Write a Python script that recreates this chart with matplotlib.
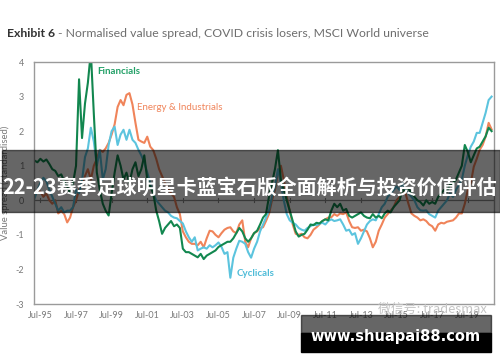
import matplotlib
matplotlib.use("Agg")
import matplotlib.pyplot as plt
from matplotlib.patches import Rectangle
import pandas as pd

# bi-monthly observations, Mar-95 .. Nov-20
dates = pd.date_range("1995-03-01", periods=155, freq="2MS")

financials = [
    1.15, 1.1, 1.2, 1.12, 1.18, 1.05,
    0.9, 0.85, 0.7, 0.75, 0.55, 0.4,
    0.2, 0.5, 1.0, 3.5, 1.8, 2.8,
    3.4, 4.3, 2.5, 0.8, 0.3, -0.1,
    -0.3, -0.44, 0.2, 0.8, 1.3, 1.0,
    0.6, 0.8, 0.5, 0.9, 1.1, 0.7,
    0.9, 1.3, 0.6, 0.4, 0.2, -0.3,
    -0.6, -0.97, -0.8, -0.7, -0.6, -0.75,
    -0.7, -0.8, -1.4, -1.5, -1.5, -1.55,
    -1.6, -1.65, -1.55, -1.7, -1.6, -1.55,
    -1.5, -1.45, -1.35, -1.3, -1.25, -1.2,
    -1.2, -1.1, -0.95, -0.8, -0.9, -1.1,
    -1.2, -1.1, -0.95, -0.88, -0.7, -0.5,
    -0.4, 0.1, 0.5, 0.9, 1.45, 0.6,
    0.3, 0.0, -0.3, -0.6, -0.9, -1.05,
    -1.0, -0.97, -0.85, -0.7, -0.72, -0.65,
    -0.67, -0.6, -0.55, -0.58, -0.3, -0.1,
    -0.2, -0.1, -0.3, -0.25, -0.45, -0.5,
    -0.45, -0.4, -0.35, -0.45, -0.5, -0.52,
    -0.4, -0.5, -0.45, -0.52, -0.38, -0.3,
    -0.35, -0.2, -0.1, 0.0, 0.3, 0.25,
    0.35, 0.2, 0.1, 0.0, -0.05, -0.15,
    0.0, -0.1, -0.05, -0.1, 0.1, 0.2,
    0.3, 0.25, 0.45, 0.5, 0.6, 0.8,
    1.0, 1.6, 1.4, 1.1, 1.3, 1.5,
    1.55, 1.7, 1.85, 2.1, 2.0,
]

energy_industrials = [
    0.1, 0.3, 0.25, 0.1, 0.2, 0.0,
    -0.1, 0.0, -0.38, -0.3, -0.4, -0.64,
    -0.5, -0.2, 0.0, 0.3, 0.5, 0.7,
    0.9, 0.6, 1.0, 1.2, 1.46, 1.4,
    1.5, 1.66, 1.9, 2.2, 2.7, 2.9,
    2.75, 3.05, 3.1, 2.77, 2.24, 1.75,
    1.7, 1.66, 1.84, 1.55, 1.45, 1.2,
    0.9, 0.7, 0.5, 0.35, 0.2, 0.1,
    -0.2, -0.4, -0.9, -1.07, -1.2, -1.26,
    -1.26, -1.3, -1.2, -1.36, -1.1, -0.88,
    -0.9, -1.0, -1.07, -0.95, -0.85, -0.8,
    -0.78, -0.9, -0.95, -0.7, -0.58, -1.2,
    -1.36, -1.1, -0.95, -0.9, -0.8, -0.78,
    -0.6, -0.4, 0.0, 0.3, 0.8, 1.0,
    0.6, 0.1, -0.3, -0.7, -0.97, -1.0,
    -0.97, -1.07, -1.1, -1.0, -0.85, -0.78,
    -0.7, -0.6, -0.55, -0.5, -0.49, -0.4,
    -0.45, -0.38, -0.4, -0.35, -0.6, -0.78,
    -0.8, -0.78, -0.88, -0.85, -0.9, -1.1,
    -1.36, -1.2, -0.88, -0.7, -0.5, -0.4,
    -0.3, -0.2, 0.0, 0.1, 0.3, 0.2,
    -0.1, -0.38, -0.45, -0.5, -0.58, -0.55,
    -0.6, -0.7, -0.75, -0.88, -0.7, -0.65,
    -0.67, -0.62, -0.6, -0.58, -0.5, -0.38,
    -0.38, -0.1, 0.3, 0.5, 0.97, 1.2,
    1.46, 1.6, 1.84, 2.24, 2.05,
]

cyclicals = [
    0.05, 0.3, 0.5, 0.65, 0.55, 0.3,
    0.1, -0.1, -0.3, -0.2, -0.35, -0.3,
    -0.3, -0.2, 0.3, 0.2, 0.58, 1.25,
    1.5, 2.1, 1.7, 1.0, 1.45, 0.6,
    0.9, 1.6, 2.0, 2.13, 1.6, 1.9,
    2.04, 1.75, 2.04, 1.75, 1.66, 1.46,
    1.3, 1.1, 0.8, 0.5, 0.2, 0.0,
    -0.1, -0.2, -0.3, -0.35, -0.45, -0.5,
    -0.52, -0.6, -0.67, -0.9, -1.07, -1.2,
    -1.07, -1.45, -1.4, -1.36, -1.4, -1.3,
    -1.36, -1.3, -1.22, -1.35, -1.55, -1.5,
    -2.24, -1.66, -1.4, -1.17, -1.2, -1.26,
    -1.5, -1.66, -1.4, -1.2, -0.9, -0.7,
    -0.5, -0.3, 0.1, 0.4, 0.9, 0.5,
    0.0, -0.4, -0.58, -0.65, -0.7, -0.8,
    -0.85, -0.88, -0.8, -0.75, -0.7, -0.72,
    -0.68, -0.65, -0.7, -0.6, -0.55, -0.6,
    -0.58, -0.55, -0.7, -0.88, -0.85, -1.0,
    -0.95, -1.26, -1.1, -0.9, -0.7, -0.6,
    -0.55, -0.58, -0.4, -0.2, -0.1, 0.1,
    0.2, 0.3, 0.4, 0.3, 0.5, 0.3,
    0.2, 0.1, 0.0, -0.2, -0.29, -0.3,
    -0.29, -0.4, -0.45, -0.5, -0.3, -0.2,
    -0.1, 0.0, 0.2, 0.1, 0.3, 0.45,
    0.6, 1.0, 1.3, 1.55, 1.7, 1.95,
    1.95, 2.24, 2.53, 2.9, 3.0,
]

tick_dates = pd.date_range("1995-07-01", "2019-07-01", freq="24MS")
tick_labels = [d.strftime("Jul-%y") for d in tick_dates]
y_ticks = [4, 3, 2, 1, 0, -1, -2, -3]

GREEN = "#12874f"
ORANGE = "#f0845a"
BLUE = "#5cc4de"
GREY = "#7a7a7a"

plt.rcParams["font.family"] = ["Lato", "DejaVu Sans"]

fig = plt.figure(figsize=(5, 3.62), dpi=100)
ax = fig.add_axes([0.068, 0.1602, 0.92, 0.6685])

ax.plot(dates, energy_industrials, color=ORANGE, lw=1.5)
ax.plot(dates, cyclicals, color=BLUE, lw=1.5)
ax.plot(dates, financials, color=GREEN, lw=1.5)

ax.set_xlim(pd.Timestamp("1995-02-20"), pd.Timestamp("2020-12-20"))
ax.set_ylim(-3, 4)
ax.set_yticks(y_ticks)
ax.set_yticklabels([str(v) for v in y_ticks])
ax.set_xticks(tick_dates)
ax.set_xticklabels(tick_labels)
ax.tick_params(axis="both", length=0, labelsize=6.5, colors=GREY)
ax.tick_params(axis="x", pad=5)
ax.tick_params(axis="y", pad=7)
for s in ax.spines.values():
    s.set_color("#9a9a9a")
    s.set_linewidth(1)

# zero line with small tick marks
ax.axhline(0, color="#8a8a8a", lw=0.9, zorder=1)
for d in tick_dates:
    ax.plot([d, d], [-0.06, 0.06], color="#8a8a8a", lw=0.8, zorder=1)

ax.set_ylabel("Value spread (standardised)", fontsize=6.8, color=GREY, labelpad=4)

ax.text(pd.Timestamp("1998-09-01"), 3.73, "Financials", color="#22a067",
        fontsize=7, fontweight="bold", va="center")
ax.text(pd.Timestamp("2000-12-01"), 2.68, "Energy & Industrials", color=ORANGE,
        fontsize=7, va="center")
ax.text(pd.Timestamp("2006-07-01"), -2.13, "Cyclicals", color="#4fbcd8",
        fontsize=7, fontweight="bold", va="center")

# title
t1 = fig.text(0.014, 0.908, "Exhibit 6", fontsize=8.8, fontweight="bold",
              color="#333333", va="center")
fig.canvas.draw()
bb = t1.get_window_extent()
fig.text(bb.x1 / 500 + 0.006, 0.908,
         "- Normalised value spread, COVID crisis losers, MSCI World universe",
         fontsize=8.8, color="#6e6e6e", va="center")

# banner overlay
fig.patches.append(Rectangle((0.004, 1 - 212 / 362), 0.996, 62 / 362,
                             transform=fig.transFigure, color="black",
                             alpha=0.6, zorder=10))
fig.text(0.5, 1 - 187 / 362, "22-23赛季足球明星卡蓝宝石版全面解析与投资价值评估",
         family=["Noto Sans CJK SC", "DejaVu Sans"], fontsize=14.4,
         fontweight="bold", color="white", ha="center", va="center", zorder=11)

# watermark
fig.text(0.756, 1 - 309 / 362, "微信号: tradesmax",
         family=["Noto Sans CJK SC", "DejaVu Sans"], fontsize=9.3,
         color="#c4c4c4", va="center", zorder=11)
fig.patches.append(Rectangle((301 / 500, 1 - 333 / 362), 190 / 500, 18 / 362,
                             transform=fig.transFigure, color="black",
                             alpha=0.6, zorder=10))
fig.patches.append(Rectangle((301 / 500, 1 - 352 / 362), 190 / 500, 19 / 362,
                             transform=fig.transFigure, color="black", zorder=10))
fig.text(396 / 500, 1 - 337 / 362, "www.shuapai88.com", fontsize=10.5,
         family=["DejaVu Sans"], fontweight="bold", color="white",
         ha="center", va="center", zorder=11)

fig.savefig("out.png", dpi=100)
